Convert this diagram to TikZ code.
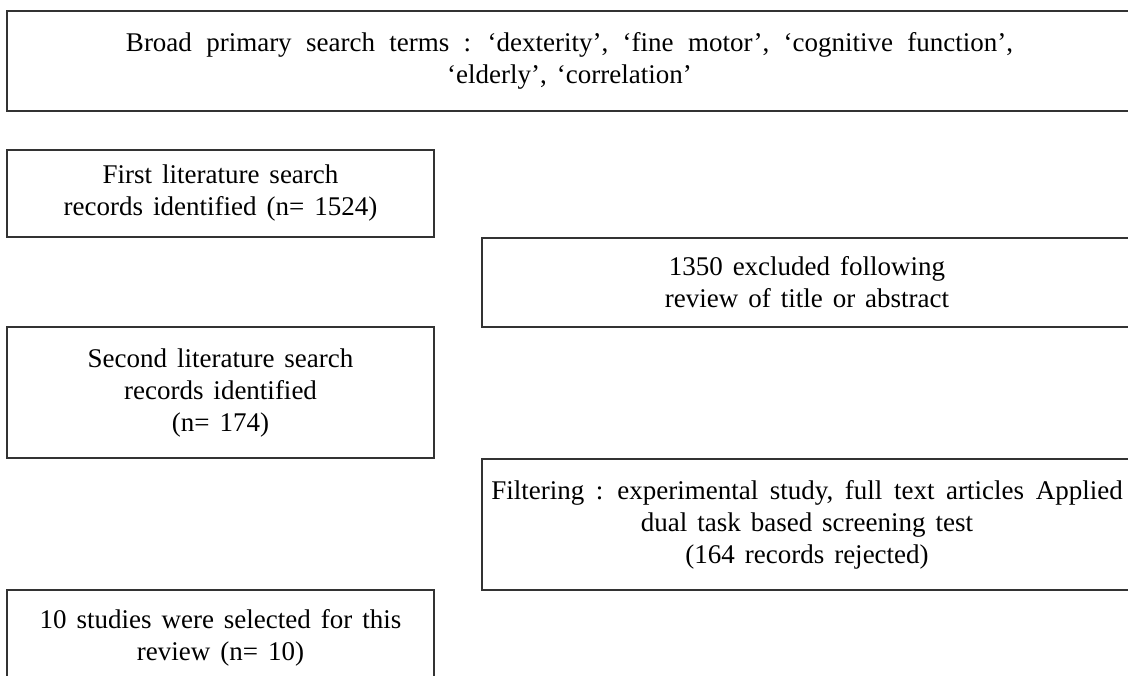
\documentclass[tikz,border=0pt]{standalone}
\usepackage{fontspec}
\setmainfont{Liberation Serif}
\newcommand\widespace[1]{\spaceskip=#1em plus .1em\relax}

\begin{document}
\begin{tikzpicture}[
                x=0.5pt, y=-0.5pt,
                box/.style={
                    draw=black!80,
                    line width=0.7pt,
                    rectangle,
                    inner sep=0pt,
                    minimum width=213.5pt,
                    align=center,
                    font=\fontsize{13.5}{16}\selectfont,
                    execute at begin node={\widespace{.37}}
                },
                widebox/.style={
                    box,
                    minimum width=325pt
                }
            ]
                \useasboundingbox (0,0) rectangle (1128,675);
                \clip (0,0) rectangle (1128,675);

                \node[box, minimum width=562.5pt, minimum height=50pt] (terms) at (569.5,61)
                    {{\widespace{.53}Broad primary search terms : ‘dexterity’, ‘fine motor’, ‘cognitive function’,}\\ ‘elderly’, ‘correlation’};
                \node[box, minimum height=43.5pt] (first) at (220.5,193.5)
                    {First literature search\\ records identified (n= 1524)};
                \node[widebox, minimum height=44.5pt] (excluded) at (807,282.5)
                    {1350 excluded following\\ review of title or abstract};
                \node[box, minimum height=65.5pt] (second) at (220.5,392.5)
                    {Second literature search\\ records identified\\ (n= 174)};
                \node[widebox, minimum height=65.5pt] (filter) at (807,524.5)
                    {{\widespace{.43}Filtering : experimental study, full text articles Applied}\\ dual task based screening test\\ (164 records rejected)};
                \node[box, minimum height=48pt] (final) at (220.5,638)
                    {10 studies were selected for this\\ review (n= 10)};
        \end{tikzpicture}
\end{document}
